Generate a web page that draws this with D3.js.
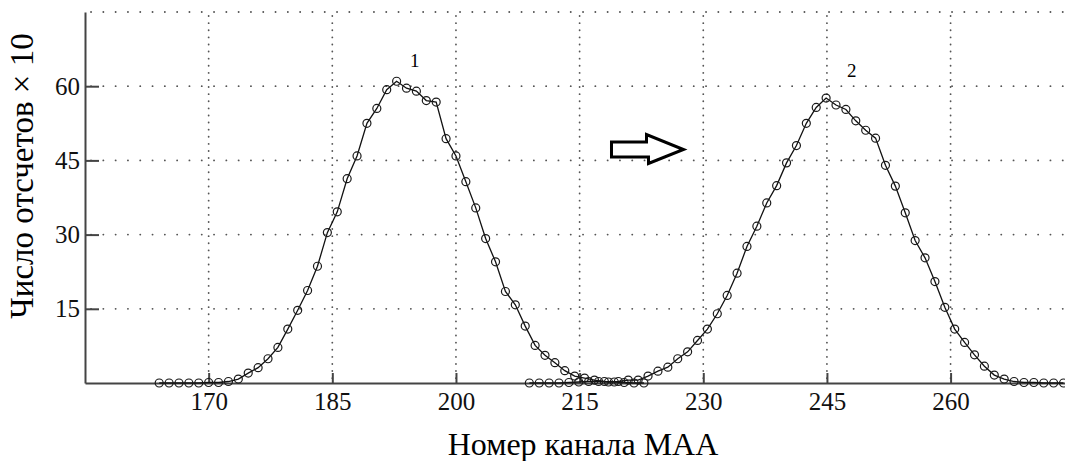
<!DOCTYPE html>
<html>
<head>
<meta charset="utf-8">
<script src="https://cdn.jsdelivr.net/npm/d3@7"></script>
<style>
  body { margin: 0; background: #fff; }
  svg { display: block; font-family: "Liberation Serif", "Times New Roman", serif; }
  .grid line { stroke: #555; stroke-width: 1.8; stroke-linecap: round; }
  .axis path, .axis line { stroke: #444; stroke-width: 2; }
  .axis text { font-size: 25px; fill: #111; font-family: "Liberation Serif", serif; }
  .curve { fill: none; stroke: #111; stroke-width: 1.3; }
  .dot { fill: none; stroke: #1a1a1a; stroke-width: 1.2; }
</style>
</head>
<body>
<svg id="chart" width="1065" height="461"></svg>
<script>
// channel numbers and counts (x10)
var chan1 = [164.0, 165.2, 166.4, 167.6, 168.8, 170.0, 171.2, 172.4, 173.6, 174.8,
             176.0, 177.2, 178.4, 179.6, 180.8, 182.0, 183.2, 184.4, 185.6, 186.8,
             188.0, 189.2, 190.4, 191.6, 192.8, 194.0, 195.2, 196.4, 197.6, 198.8,
             200.0, 201.2, 202.4, 203.6, 204.8, 206.0, 207.2, 208.4, 209.6, 210.8,
             212.0, 213.2, 214.4, 215.6, 216.8, 218.0, 219.2, 220.4, 221.6, 222.8];
var counts1 = [0, 0, 0, 0, 0, 0.1, 0.1, 0.3, 0.8, 2.0,
               3.1, 4.9, 7.2, 10.9, 14.7, 18.7, 23.6, 30.4, 34.6, 41.3,
               45.9, 52.5, 55.5, 59.3, 61.0, 59.6, 59.0, 57.1, 56.8, 49.4,
               45.9, 40.7, 35.4, 29.2, 24.5, 18.5, 15.8, 11.5, 7.6, 5.6,
               4.1, 2.5, 1.4, 1.0, 0.6, 0.3, 0.2, 0.1, 0, 0];

var chan2 = [208.9, 210.1, 211.3, 212.5, 213.7, 214.9, 216.1, 217.3, 218.5, 219.7,
             220.9, 222.1, 223.3, 224.5, 225.7, 226.9, 228.1, 229.3, 230.5, 231.7,
             232.9, 234.1, 235.3, 236.5, 237.7, 238.9, 240.1, 241.3, 242.5, 243.7,
             244.9, 246.1, 247.3, 248.5, 249.7, 250.9, 252.1, 253.3, 254.5, 255.7,
             256.9, 258.1, 259.3, 260.5, 261.7, 262.9, 264.1, 265.3, 266.5, 267.7,
             268.9, 270.1, 271.3, 272.5, 273.7];
var counts2 = [0, 0, 0, 0, 0.1, 0.2, 0.3, 0.3, 0.2, 0.3,
               0.6, 0.6, 1.4, 2.4, 3.2, 4.9, 6.3, 8.6, 10.9, 14.0,
               17.7, 22.2, 27.6, 31.7, 36.4, 39.9, 44.5, 48.0, 52.5, 55.7,
               57.6, 56.2, 55.3, 53.0, 51.1, 49.5, 44.0, 39.8, 34.4, 28.8,
               25.3, 20.5, 15.3, 10.9, 8.2, 5.7, 3.4, 1.6, 0.8, 0.3,
               0.1, 0.1, 0, 0, 0];

var xTicks = [170, 185, 200, 215, 230, 245, 260];
var yTicks = [15, 30, 45, 60];
var yGrid = [15, 30, 45, 60, 75];

// peak labels: [channel, count, text]
var peakLabels = [[195.0, 63.9, "1"], [248.0, 61.9, "2"]];

var svg = d3.select("#chart");

// plot box (note: "top" is taken by window, so use a prefix)
var plotL = 85, plotR = 1066, plotT = 12, plotB = 383;

var x = d3.scaleLinear()
    .domain([155, 274])
    .range([plotL, plotR]);

var y = d3.scaleLinear()
    .domain([0, 75])
    .range([plotB, plotT]);

// dotted grid
var grid = svg.append("g").attr("class", "grid");

grid.selectAll("line.h")
    .data(yGrid)
  .enter().append("line")
    .attr("class", "h")
    .attr("x1", plotL + 6)
    .attr("x2", plotR)
    .attr("y1", y)
    .attr("y2", y)
    .attr("stroke-dasharray", "0.1,12.2");

grid.selectAll("line.v")
    .data(xTicks)
  .enter().append("line")
    .attr("class", "v")
    .attr("x1", x)
    .attr("x2", x)
    .attr("y1", plotT + 4)
    .attr("y2", plotB - 3)
    .attr("stroke-dasharray", "0.1,7");

// axes, ticks pointing inward
svg.append("g")
    .attr("class", "axis")
    .attr("transform", "translate(0," + plotB + ")")
    .call(d3.axisBottom(x)
      .tickValues(xTicks)
      .tickSizeInner(-10)
      .tickSizeOuter(0)
      .tickPadding(9)
      .tickFormat(d3.format("d")));

svg.append("g")
    .attr("class", "axis")
    .attr("transform", "translate(" + plotL + ",0)")
    .call(d3.axisLeft(y)
      .tickValues(yTicks)
      .tickSizeInner(-14)
      .tickSizeOuter(0)
      .tickPadding(5)
      .tickFormat(d3.format("d")));

// the curves
var line = d3.line()
    .x(function(d) { return x(d[0]); })
    .y(function(d) { return y(d[1]); });

[d3.zip(chan1, counts1), d3.zip(chan2, counts2)].forEach(function(pts) {
  svg.append("path")
      .datum(pts)
      .attr("class", "curve")
      .attr("d", line);

  svg.append("g").selectAll("circle")
      .data(pts)
    .enter().append("circle")
      .attr("class", "dot")
      .attr("cx", function(d) { return x(d[0]); })
      .attr("cy", function(d) { return y(d[1]); })
      .attr("r", 4);
});

// peak numbers
svg.selectAll("text.peak")
    .data(peakLabels)
  .enter().append("text")
    .attr("class", "peak")
    .attr("x", function(d) { return x(d[0]); })
    .attr("y", function(d) { return y(d[1]); })
    .attr("text-anchor", "middle")
    .style("font-size", "19px")
    .text(function(d) { return d[2]; });

// hollow arrow between the peaks
var tipX = x(227.6), tipY = y(47.2);
var arrow = [[-72, -7.5], [-37, -7.5], [-37, -15], [0, 0], [-35, 14], [-35, 7.5], [-72, 7.5]];
svg.append("path")
    .attr("d", "M" + arrow.map(function(p) { return (tipX + p[0]) + "," + (tipY + p[1]); }).join("L") + "Z")
    .attr("fill", "#fff")
    .attr("stroke", "#000")
    .attr("stroke-width", 3)
    .attr("stroke-linejoin", "miter");

// axis titles
svg.append("text")
    .attr("x", 583)
    .attr("y", 455)
    .attr("text-anchor", "middle")
    .style("font-size", "32px")
    .text("Номер канала МАА");

svg.append("text")
    .attr("transform", "translate(33,176) rotate(-90)")
    .attr("text-anchor", "middle")
    .style("font-size", "33px")
    .text("Число отсчетов × 10");
</script>
</body>
</html>
